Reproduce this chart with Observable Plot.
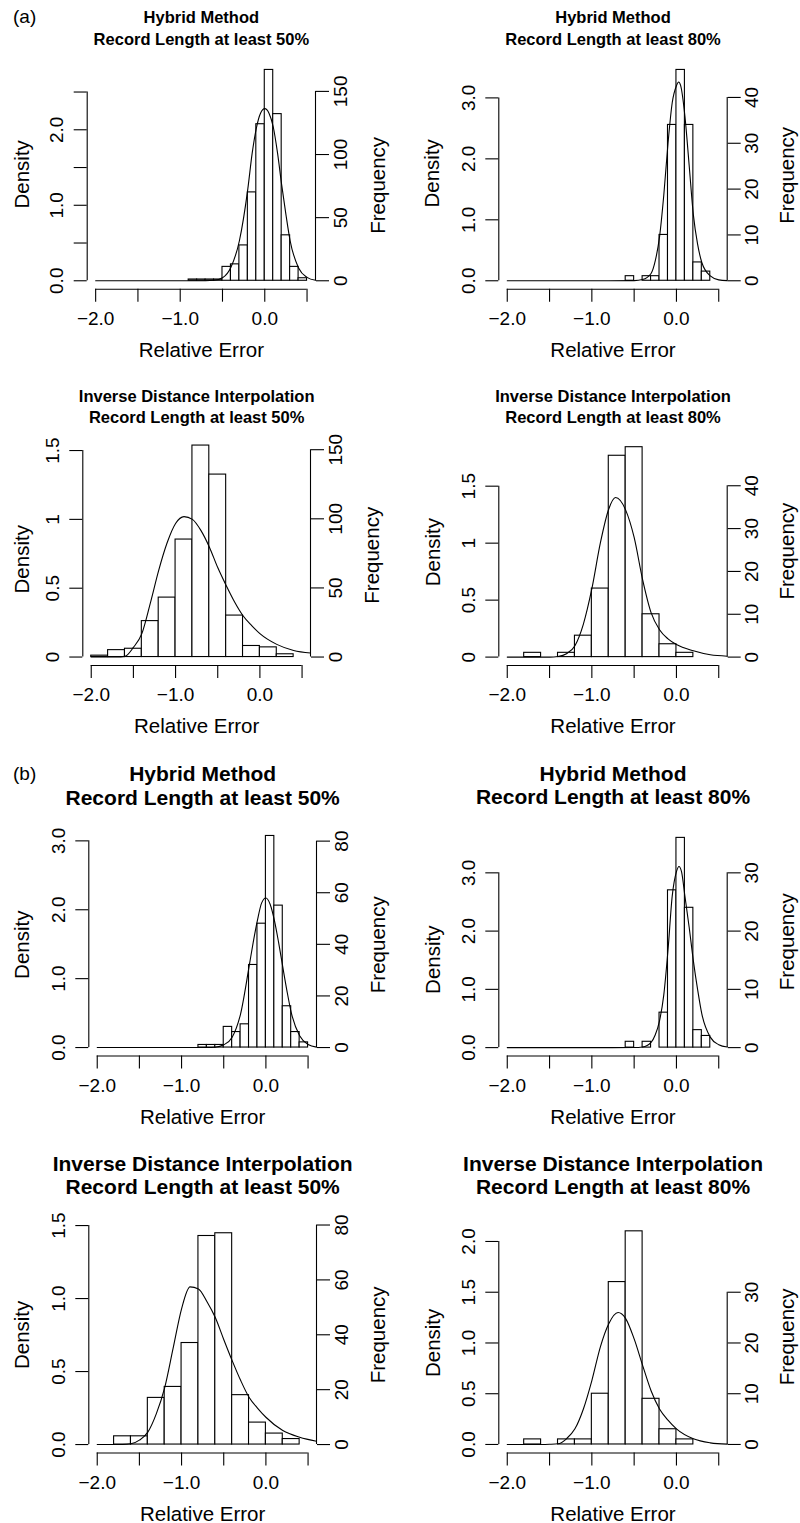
<!DOCTYPE html>
<html>
<head>
<meta charset="utf-8">
<script src="https://cdn.jsdelivr.net/npm/d3@7"></script>
<script src="https://cdn.jsdelivr.net/npm/@observablehq/plot@0.6"></script>
<style>
  body { margin: 0; background: #fff; }
  #root { position: relative; width: 800px; height: 1523px; background: #fff;
          font-family: "Liberation Sans", Arial, Helvetica, sans-serif; color: #000; }
  .panel { position: absolute; width: 400px; }
  .tag { position: absolute; font-size: 19px; line-height: 1; z-index: 5; }
</style>
</head>
<body>
<div id="root"></div>
<script>
// ---------------- shared axis data ----------------
const xLimits = [-2, 0.5];
const xTicks = [-2, -1.5, -1, -0.5, 0, 0.5];
const xTickLabels = ["\u22122.0", "", "\u22121.0", "", "0.0", ""];

// ---------------- (a) Hybrid Method, record length >= 50% ----------------
const aHyb50Title = ["Hybrid Method", "Record Length at least 50%"];
const aHyb50BinStart = -0.9;
const aHyb50BinWidth = 0.1;
const aHyb50Counts = [1, 1, 1, 1, 11, 13, 28, 70, 124, 167, 132, 36, 11, 2];
const aHyb50CurveX = [-2.0, -1.0, -0.7, -0.6, -0.5, -0.4, -0.3, -0.2, -0.15, -0.1, -0.05, 0, 0.05, 0.1, 0.15, 0.2, 0.25, 0.3, 0.4, 0.5, 0.6];
const aHyb50CurveY = [0, 0, 0.001, 0.006, 0.04, 0.18, 0.53, 1.22, 1.68, 2.02, 2.22, 2.28, 2.22, 2.04, 1.7, 1.27, 0.88, 0.53, 0.17, 0.045, 0.006];
const aHyb50DensTicks = [0, 0.5, 1, 1.5, 2, 2.5];
const aHyb50DensLabels = ["0.0", "", "1.0", "", "2.0", ""];
const aHyb50FreqTicks = [0, 50, 100, 150];

// ---------------- (a) Hybrid Method, record length >= 80% ----------------
const aHyb80Title = ["Hybrid Method", "Record Length at least 80%"];
const aHyb80BinStart = -0.6;
const aHyb80BinWidth = 0.1;
const aHyb80Counts = [1, 0, 1, 1, 10, 34, 46, 34, 4, 2];
const aHyb80CurveX = [-2.0, -1.0, -0.5, -0.4, -0.3, -0.25, -0.2, -0.15, -0.1, -0.05, 0, 0.025, 0.05, 0.1, 0.15, 0.2, 0.25, 0.3, 0.4, 0.5, 0.6];
const aHyb80CurveY = [0, 0, 0.003, 0.02, 0.12, 0.33, 0.72, 1.4, 2.25, 2.92, 3.2, 3.26, 3.2, 2.7, 1.9, 1.08, 0.6, 0.3, 0.08, 0.015, 0.002];
const aHyb80DensTicks = [0, 1, 2, 3];
const aHyb80DensLabels = ["0.0", "1.0", "2.0", "3.0"];
const aHyb80FreqTicks = [0, 10, 20, 30, 40];

// ---------------- (a) Inverse Distance Interpolation, >= 50% ----------------
const aIdw50Title = ["Inverse Distance Interpolation", "Record Length at least 50%"];
const aIdw50BinStart = -2.0;
const aIdw50BinWidth = 0.2;
const aIdw50Counts = [1, 5, 6, 26, 43, 85, 153, 132, 30, 8, 7, 2];
const aIdw50CurveX = [-2.0, -1.7, -1.6, -1.5, -1.4, -1.3, -1.2, -1.1, -1.0, -0.9, -0.8, -0.7, -0.6, -0.5, -0.4, -0.3, -0.2, -0.1, 0.0, 0.2, 0.4, 0.6];
const aIdw50CurveY = [0, 0, 0.005, 0.07, 0.17, 0.39, 0.63, 0.83, 0.97, 1.02, 1.0, 0.92, 0.8, 0.65, 0.52, 0.40, 0.30, 0.23, 0.17, 0.092, 0.048, 0.029];
const aIdw50DensTicks = [0, 0.5, 1, 1.5];
const aIdw50DensLabels = ["0", "0.5", "1", "1.5"];
const aIdw50FreqTicks = [0, 50, 100, 150];

// ---------------- (a) Inverse Distance Interpolation, >= 80% ----------------
const aIdw80Title = ["Inverse Distance Interpolation", "Record Length at least 80%"];
const aIdw80BinStart = -1.8;
const aIdw80BinWidth = 0.2;
const aIdw80Counts = [1, 0, 1, 5, 16, 47, 49, 10, 3, 1];
const aIdw80CurveX = [-2.0, -1.5, -1.4, -1.3, -1.2, -1.1, -1.0, -0.9, -0.8, -0.72, -0.6, -0.5, -0.4, -0.3, -0.2, -0.1, 0.0, 0.2, 0.4, 0.6];
const aIdw80CurveY = [0, 0, 0.006, 0.03, 0.10, 0.29, 0.6, 1.0, 1.3, 1.4, 1.29, 1.05, 0.68, 0.39, 0.24, 0.16, 0.11, 0.055, 0.02, 0.008];
const aIdw80DensTicks = [0, 0.5, 1, 1.5];
const aIdw80DensLabels = ["0", "0.5", "1", "1.5"];
const aIdw80FreqTicks = [0, 10, 20, 30, 40];

// ---------------- (b) Hybrid Method, >= 50% ----------------
const bHyb50Title = ["Hybrid Method", "Record Length at least 50%"];
const bHyb50BinStart = -0.8;
const bHyb50BinWidth = 0.1;
const bHyb50Counts = [1, 1, 1, 8, 6, 9, 32, 48, 82, 55, 16, 6, 2];
const bHyb50CurveX = [-2.0, -1.0, -0.7, -0.6, -0.5, -0.4, -0.3, -0.2, -0.15, -0.1, -0.05, 0, 0.05, 0.1, 0.15, 0.2, 0.25, 0.3, 0.4, 0.5, 0.6];
const bHyb50CurveY = [0, 0, 0.001, 0.005, 0.04, 0.15, 0.49, 1.17, 1.53, 1.85, 2.1, 2.17, 2.08, 1.85, 1.53, 1.17, 0.82, 0.51, 0.17, 0.044, 0.006];
const bHyb50DensTicks = [0, 1, 2, 3];
const bHyb50DensLabels = ["0.0", "1.0", "2.0", "3.0"];
const bHyb50FreqTicks = [0, 20, 40, 60, 80];

// ---------------- (b) Hybrid Method, >= 80% ----------------
const bHyb80Title = ["Hybrid Method", "Record Length at least 80%"];
const bHyb80BinStart = -0.6;
const bHyb80BinWidth = 0.1;
const bHyb80Counts = [1, 0, 1, 0, 6, 27, 36, 24, 3, 2];
const bHyb80CurveX = [-2.0, -1.0, -0.5, -0.4, -0.3, -0.25, -0.2, -0.15, -0.1, -0.05, 0, 0.03, 0.06, 0.1, 0.15, 0.2, 0.25, 0.3, 0.4, 0.5, 0.6];
const bHyb80CurveY = [0, 0, 0.001, 0.01, 0.09, 0.22, 0.46, 0.9, 1.67, 2.6, 3.02, 3.11, 3.02, 2.6, 2.07, 1.49, 1.0, 0.58, 0.18, 0.05, 0.01];
const bHyb80DensTicks = [0, 1, 2, 3];
const bHyb80DensLabels = ["0.0", "1.0", "2.0", "3.0"];
const bHyb80FreqTicks = [0, 10, 20, 30];

// ---------------- (b) Inverse Distance Interpolation, >= 50% ----------------
const bIdw50Title = ["Inverse Distance Interpolation", "Record Length at least 50%"];
const bIdw50BinStart = -1.8;
const bIdw50BinWidth = 0.2;
const bIdw50Counts = [3, 3, 17, 21, 37, 76, 77, 18, 8, 4, 2];
const bIdw50CurveX = [-2.0, -1.7, -1.6, -1.5, -1.4, -1.3, -1.2, -1.1, -1.0, -0.9, -0.8, -0.7, -0.6, -0.5, -0.4, -0.3, -0.2, -0.1, 0.0, 0.2, 0.4, 0.6];
const bIdw50CurveY = [0, 0, 0.005, 0.03, 0.085, 0.21, 0.39, 0.66, 0.93, 1.08, 1.066, 0.98, 0.87, 0.72, 0.575, 0.44, 0.324, 0.25, 0.187, 0.096, 0.05, 0.023];
const bIdw50DensTicks = [0, 0.5, 1, 1.5];
const bIdw50DensLabels = ["0.0", "0.5", "1.0", "1.5"];
const bIdw50FreqTicks = [0, 20, 40, 60, 80];

// ---------------- (b) Inverse Distance Interpolation, >= 80% ----------------
const bIdw80Title = ["Inverse Distance Interpolation", "Record Length at least 80%"];
const bIdw80BinStart = -1.8;
const bIdw80BinWidth = 0.2;
const bIdw80Counts = [1, 0, 1, 1, 10, 32, 42, 9, 3, 1];
const bIdw80CurveX = [-2.0, -1.6, -1.5, -1.4, -1.3, -1.2, -1.1, -1.0, -0.9, -0.8, -0.69, -0.6, -0.5, -0.4, -0.3, -0.2, -0.1, 0.0, 0.2, 0.4, 0.6];
const bIdw80CurveY = [0, 0, 0.002, 0.007, 0.056, 0.154, 0.35, 0.63, 0.96, 1.19, 1.30, 1.24, 1.04, 0.78, 0.53, 0.35, 0.24, 0.154, 0.056, 0.016, 0.003];
const bIdw80DensTicks = [0, 0.5, 1, 1.5, 2];
const bIdw80DensLabels = ["0.0", "0.5", "1.0", "1.5", "2.0"];
const bIdw80FreqTicks = [0, 10, 20, 30];

// ---------------- assemble ----------------
function pack(title, binStart, binWidth, counts, curveX, curveY, densTicks, densLabels, freqTicks) {
  return {title, binStart, binWidth, counts, curveX, curveY, densTicks, densLabels, freqTicks};
}
const panelsData = [
  pack(aHyb50Title, aHyb50BinStart, aHyb50BinWidth, aHyb50Counts, aHyb50CurveX, aHyb50CurveY, aHyb50DensTicks, aHyb50DensLabels, aHyb50FreqTicks),
  pack(aHyb80Title, aHyb80BinStart, aHyb80BinWidth, aHyb80Counts, aHyb80CurveX, aHyb80CurveY, aHyb80DensTicks, aHyb80DensLabels, aHyb80FreqTicks),
  pack(aIdw50Title, aIdw50BinStart, aIdw50BinWidth, aIdw50Counts, aIdw50CurveX, aIdw50CurveY, aIdw50DensTicks, aIdw50DensLabels, aIdw50FreqTicks),
  pack(aIdw80Title, aIdw80BinStart, aIdw80BinWidth, aIdw80Counts, aIdw80CurveX, aIdw80CurveY, aIdw80DensTicks, aIdw80DensLabels, aIdw80FreqTicks),
  pack(bHyb50Title, bHyb50BinStart, bHyb50BinWidth, bHyb50Counts, bHyb50CurveX, bHyb50CurveY, bHyb50DensTicks, bHyb50DensLabels, bHyb50FreqTicks),
  pack(bHyb80Title, bHyb80BinStart, bHyb80BinWidth, bHyb80Counts, bHyb80CurveX, bHyb80CurveY, bHyb80DensTicks, bHyb80DensLabels, bHyb80FreqTicks),
  pack(bIdw50Title, bIdw50BinStart, bIdw50BinWidth, bIdw50Counts, bIdw50CurveX, bIdw50CurveY, bIdw50DensTicks, bIdw50DensLabels, bIdw50FreqTicks),
  pack(bIdw80Title, bIdw80BinStart, bIdw80BinWidth, bIdw80Counts, bIdw80CurveX, bIdw80CurveY, bIdw80DensTicks, bIdw80DensLabels, bIdw80FreqTicks)
];

// layout (pixels) – kept separate from data
const layouts = [
  {left: 0,   top: 0,    h: 370, mL: 86.7, mR: 85,   mT: 61,   mB: 81.3, titleY: [17, 39],     titleSize: 16.5, dDx: -64.7, dDy: -1, fDx: 63,   fDy: 10},
  {left: 400, top: 0,    h: 370, mL: 98.3, mR: 73.3, mT: 61,   mB: 81.3, titleY: [17.3, 39.3], titleSize: 16.5, dDx: -66.6, dDy: -2, fDx: 60,   fDy: 0},
  {left: 0,   top: 370,  h: 370, mL: 82.3, mR: 90,   mT: 66.6, mB: 75,   titleY: [26.7, 47.7], titleSize: 16.5, dDx: -60.6, dDy: 8,  fDx: 61.7, fDy: 4},
  {left: 400, top: 370,  h: 370, mL: 98.3, mR: 73.3, mT: 68.3, mB: 75,   titleY: [26.7, 47.7], titleSize: 16.5, dDx: -65,   dDy: 0,  fDx: 60,   fDy: -1},
  {left: 0,   top: 740,  h: 390, mL: 88.3, mR: 84,   mT: 87,   mB: 74.5, titleY: [33.3, 57.3], titleSize: 21,   dDx: -66.6, dDy: 3,  fDx: 62.3, fDy: 3},
  {left: 400, top: 740,  h: 390, mL: 98.3, mR: 73.3, mT: 89,   mB: 74.5, titleY: [33.3, 56.7], titleSize: 21,   dDx: -65,   dDy: 17, fDx: 60,   fDy: -1},
  {left: 0,   top: 1130, h: 393, mL: 88.3, mR: 84,   mT: 94.3, mB: 70.5, titleY: [33.3, 56.7], titleSize: 21,   dDx: -66.6, dDy: -4, fDx: 62.3, fDy: -4},
  {left: 400, top: 1130, h: 393, mL: 98.3, mR: 73.3, mT: 92.3, mB: 70.5, titleY: [33.3, 56.7], titleSize: 21,   dDx: -65,   dDy: 5,  fDx: 60,   fDy: -1}
];

const FONT = '"Liberation Sans", Arial, Helvetica, sans-serif';
const TICK_FS = 19, LAB_FS = 20.5, LW = 1.1;

function drawPanel(d, L) {
  const k = d3.sum(d.counts) * d.binWidth;              // counts per unit density
  const bars = d.counts.map((c, i) => ({
    x1: d.binStart + i * d.binWidth,
    x2: d.binStart + (i + 1) * d.binWidth,
    density: c / k
  }));
  const curve = d.curveX.map((x, i) => ({x, y: d.curveY[i]}));
  const ymax = d3.max(bars, b => b.density);
  const xr = xLimits[1] - xLimits[0];
  const xDomain = [xLimits[0] - 0.04 * xr, xLimits[1] + 0.04 * xr];   // R-style 4% expansion
  const yDomain = [-0.04 * ymax, 1.04 * ymax];
  const freqPos = d.freqTicks.map(f => f / k);
  const fmtDens = v => { const i = d.densTicks.indexOf(v); return i < 0 ? "" : d.densLabels[i]; };
  const fmtX = v => { const i = xTicks.indexOf(v); return i < 0 ? "" : xTickLabels[i]; };
  const fmtF = v => String(Math.round(v * k));

  return Plot.plot({
    width: 400,
    height: L.h,
    marginLeft: L.mL, marginRight: L.mR, marginTop: L.mT, marginBottom: L.mB,
    x: {domain: xDomain, axis: null},
    y: {domain: yDomain, axis: null},
    style: {fontFamily: FONT, fontSize: TICK_FS + "px", color: "black", background: "white", overflow: "visible"},
    marks: [
      Plot.rect(bars, {x1: "x1", x2: "x2", y1: 0, y2: "density", fill: "white", stroke: "black", strokeWidth: LW}),
      Plot.line(curve, {x: "x", y: "y", curve: "monotone-x", stroke: "black", strokeWidth: LW}),
      // left (Density) axis
      Plot.ruleX([xDomain[0]], {y1: 0, y2: d3.max(d.densTicks), stroke: "black", strokeWidth: LW}),
      Plot.axisY({anchor: "left", ticks: d.densTicks, tickFormat: fmtDens, tickSize: 13, tickPadding: 17,
                  tickRotate: -90, textAnchor: "middle", lineAnchor: "middle", fontSize: TICK_FS,
                  strokeWidth: LW, label: null}),
      // right (Frequency) axis
      Plot.ruleX([xDomain[1]], {y1: 0, y2: d3.max(freqPos), stroke: "black", strokeWidth: LW}),
      Plot.axisY({anchor: "right", ticks: freqPos, tickFormat: fmtF, tickSize: 13, tickPadding: 12,
                  tickRotate: -90, textAnchor: "middle", lineAnchor: "middle", fontSize: TICK_FS,
                  strokeWidth: LW, label: null}),
      // bottom axis
      Plot.ruleY([yDomain[0]], {x1: xLimits[0], x2: xLimits[1], stroke: "black", strokeWidth: LW}),
      Plot.axisX({anchor: "bottom", ticks: xTicks, tickFormat: fmtX, tickSize: 13, tickPadding: 9,
                  fontSize: TICK_FS, strokeWidth: LW, label: null}),
      // axis titles
      Plot.text(["Density"], {text: t => t, frameAnchor: "left", dx: L.dDx, dy: L.dDy, rotate: -90,
                 textAnchor: "middle", lineAnchor: "middle", fontSize: LAB_FS}),
      Plot.text(["Frequency"], {text: t => t, frameAnchor: "right", dx: L.fDx, dy: L.fDy, rotate: -90,
                 textAnchor: "middle", lineAnchor: "middle", fontSize: LAB_FS}),
      Plot.text(["Relative Error"], {text: t => t, frameAnchor: "bottom", dy: 61,
                 textAnchor: "middle", lineAnchor: "middle", fontSize: LAB_FS}),
      // titles
      Plot.text([d.title[0]], {text: t => t, frameAnchor: "top", dy: L.titleY[0] - L.mT,
                 textAnchor: "middle", lineAnchor: "middle", fontSize: L.titleSize, fontWeight: "bold"}),
      Plot.text([d.title[1]], {text: t => t, frameAnchor: "top", dy: L.titleY[1] - L.mT,
                 textAnchor: "middle", lineAnchor: "middle", fontSize: L.titleSize, fontWeight: "bold"})
    ]
  });
}

const root = document.getElementById("root");
panelsData.forEach((d, i) => {
  const L = layouts[i];
  const div = document.createElement("div");
  div.className = "panel";
  div.style.left = L.left + "px";
  div.style.top = L.top + "px";
  div.style.height = L.h + "px";
  div.appendChild(drawPanel(d, L));
  root.appendChild(div);
});

const tags = [{t: "(a)", x: 13, y: 7}, {t: "(b)", x: 13, y: 764}];
tags.forEach(g => {
  const s = document.createElement("div");
  s.className = "tag";
  s.style.left = g.x + "px";
  s.style.top = g.y + "px";
  s.textContent = g.t;
  root.appendChild(s);
});
</script>
</body>
</html>
